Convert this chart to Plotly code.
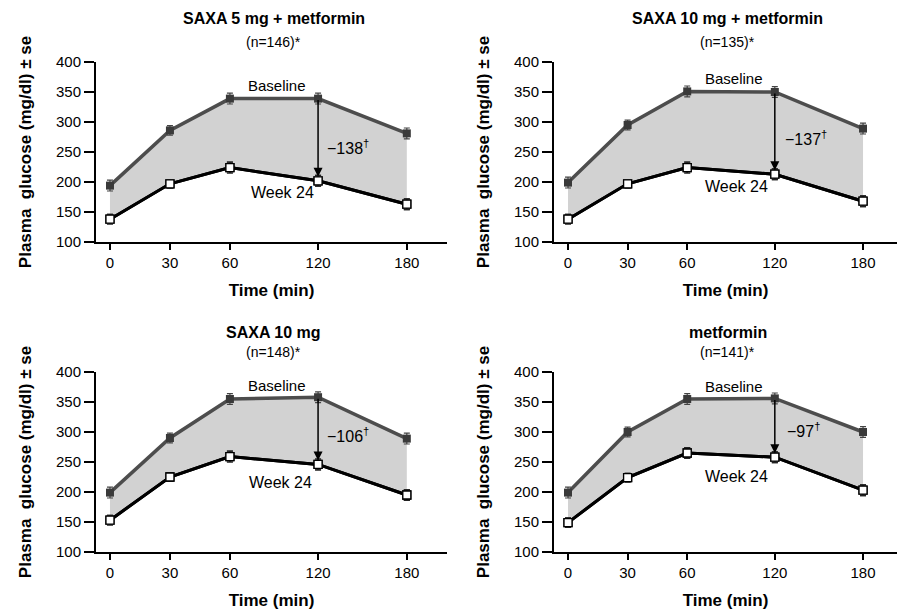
import plotly.graph_objects as go

# ---- data ----
times = [0, 30, 60, 120, 180]
time_labels = ["0", "30", "60", "120", "180"]

panel_titles = ["SAXA 5 mg + metformin", "SAXA 10 mg + metformin", "SAXA 10 mg", "metformin"]
panel_ns = ["(n=146)*", "(n=135)*", "(n=148)*", "(n=141)*"]
diff_labels = ["\u2212138<sup>\u2020</sup>", "\u2212137<sup>\u2020</sup>", "\u2212106<sup>\u2020</sup>", "\u221297<sup>\u2020</sup>"]

baseline_saxa5_met = [194, 286, 339, 339, 281]
week24_saxa5_met = [138, 197, 224, 202, 163]
baseline_saxa10_met = [199, 295, 351, 350, 289]
week24_saxa10_met = [138, 197, 224, 213, 168]
baseline_saxa10 = [199, 290, 355, 358, 289]
week24_saxa10 = [153, 225, 259, 246, 195]
baseline_met = [199, 300, 355, 356, 300]
week24_met = [149, 224, 265, 258, 203]

se_baseline = [9, 8, 9, 9, 9]
se_week24 = [8, 7, 9, 9, 9]

baselines = [baseline_saxa5_met, baseline_saxa10_met, baseline_saxa10, baseline_met]
week24s = [week24_saxa5_met, week24_saxa10_met, week24_saxa10, week24_met]

# ---- display scale for the time axis (uneven spacing as in the figure) ----
TIME_POS = {0: 0.0, 30: 1.0, 60: 2.0, 120: 3.47, 180: 4.95}
xpos = [TIME_POS[t] for t in times]

FONT = "Liberation Sans, Arial, sans-serif"
BASE_COL = "#4d4d4d"
FILL_COL = "#d2d2d2"

W, H = 900, 616
# panel pixel boxes: (left, right, top, bottom)
boxes = [(96, 447, 62, 242), (554, 897, 62, 242), (96, 447, 372, 552), (554, 897, 372, 552)]
xranges = [(-0.233, 5.62), (-0.235, 5.52), (-0.233, 5.62), (-0.235, 5.52)]
title_y = [(18, 42), (18, 42), (332, 352), (332, 352)]
label_pos = [
    ((2.78, 361), (2.87, 182), (3.97, 259)),
    ((2.78, 372), (2.82, 193), (4.00, 273)),
    ((2.78, 378), (2.85, 216), (3.97, 295)),
    ((2.78, 376), (2.82, 226), (3.95, 303)),
]

fig = go.Figure()
annotations = []
layout = {}

for i in range(4):
    l, r, t, b = boxes[i]
    ax_id = "" if i == 0 else str(i + 1)
    xa, ya = "x" + ax_id, "y" + ax_id
    fig.add_trace(go.Scatter(
        x=xpos, y=week24s[i], xaxis=xa, yaxis=ya, mode="lines+markers",
        line=dict(color="black", width=3),
        marker=dict(symbol="square", size=8, color="white", line=dict(color="black", width=1.3)),
        error_y=dict(type="data", array=se_week24, color="#222222", thickness=1.2, width=3),
        showlegend=False, hoverinfo="skip"))
    fig.add_trace(go.Scatter(
        x=xpos, y=baselines[i], xaxis=xa, yaxis=ya, mode="lines+markers",
        line=dict(color=BASE_COL, width=3.5),
        marker=dict(symbol="square", size=8, color="#3a3a3a"),
        fill="tonexty", fillcolor=FILL_COL,
        error_y=dict(type="data", array=se_baseline, color="#444444", thickness=1.2, width=3),
        showlegend=False, hoverinfo="skip"))
    fig.add_trace(go.Scatter(
        x=xpos, y=week24s[i], xaxis=xa, yaxis=ya, mode="lines+markers",
        line=dict(color="black", width=3),
        marker=dict(symbol="square", size=8, color="white", line=dict(color="black", width=1.3)),
        error_y=dict(type="data", array=se_week24, color="#222222", thickness=1.2, width=3),
        showlegend=False, hoverinfo="skip"))

    xdom = [l / W, r / W]
    ydom = [1 - b / H, 1 - t / H]
    key = "" if i == 0 else str(i + 1)
    layout["xaxis" + key] = dict(
        domain=xdom, anchor=ya, range=list(xranges[i]), automargin=False,
        tickvals=xpos, ticktext=time_labels,
        showline=True, linecolor="black", linewidth=2,
        ticks="outside", ticklen=6, tickwidth=1.5, tickcolor="black",
        showgrid=False, zeroline=False,
        tickfont=dict(family=FONT, size=15, color="black"),
        title=dict(text="<b>Time (min)</b>", font=dict(family=FONT, size=17, color="black"), standoff=14),
    )
    layout["yaxis" + key] = dict(
        domain=ydom, anchor=xa, range=[100, 400], automargin=False,
        tickvals=[100, 150, 200, 250, 300, 350, 400],
        showline=True, linecolor="black", linewidth=2,
        ticks="outside", ticklen=10, tickwidth=1.5, tickcolor="black",
        showgrid=False, zeroline=False,
        tickfont=dict(family=FONT, size=15, color="black"),
        title=dict(text="<b>Plasma  glucose (mg/dl) \u00b1 se</b>", font=dict(family=FONT, size=17, color="black"), standoff=20),
    )
    x120 = TIME_POS[120]
    annotations.append(dict(
        x=x120, y=week24s[i][3], ax=x120, ay=baselines[i][3],
        xref=xa, yref=ya, axref=xa, ayref=ya,
        showarrow=True, arrowhead=2, arrowsize=1.2, arrowwidth=1.5, arrowcolor="black",
        standoff=4, text=""))
    (bx, by), (wx, wy), (dx, dy) = label_pos[i]
    annotations.append(dict(x=bx, y=by, xref=xa, yref=ya, text="Baseline", showarrow=False,
                            font=dict(family=FONT, size=15, color="black")))
    annotations.append(dict(x=wx, y=wy, xref=xa, yref=ya, text="Week 24", showarrow=False,
                            font=dict(family=FONT, size=16, color="black")))
    annotations.append(dict(x=dx, y=dy, xref=xa, yref=ya, text=diff_labels[i], showarrow=False,
                            font=dict(family=FONT, size=16, color="black")))
    cx = ((l + r) / 2 + 2) / W
    annotations.append(dict(x=cx, y=1 - title_y[i][0] / H, xref="paper", yref="paper",
                            xanchor="center", yanchor="middle",
                            text="<b>" + panel_titles[i] + "</b>", showarrow=False,
                            font=dict(family=FONT, size=16, color="black")))
    annotations.append(dict(x=cx, y=1 - title_y[i][1] / H, xref="paper", yref="paper",
                            xanchor="center", yanchor="middle",
                            text=panel_ns[i], showarrow=False,
                            font=dict(family=FONT, size=14, color="black")))

fig.update_layout(
    width=W, height=H,
    margin=dict(l=0, r=0, t=0, b=0),
    paper_bgcolor="white", plot_bgcolor="white",
    annotations=annotations,
    **layout,
)

fig.write_html("out.html", config={"displayModeBar": False},
               post_script="document.body.style.margin='0';document.body.style.overflow='hidden';")
